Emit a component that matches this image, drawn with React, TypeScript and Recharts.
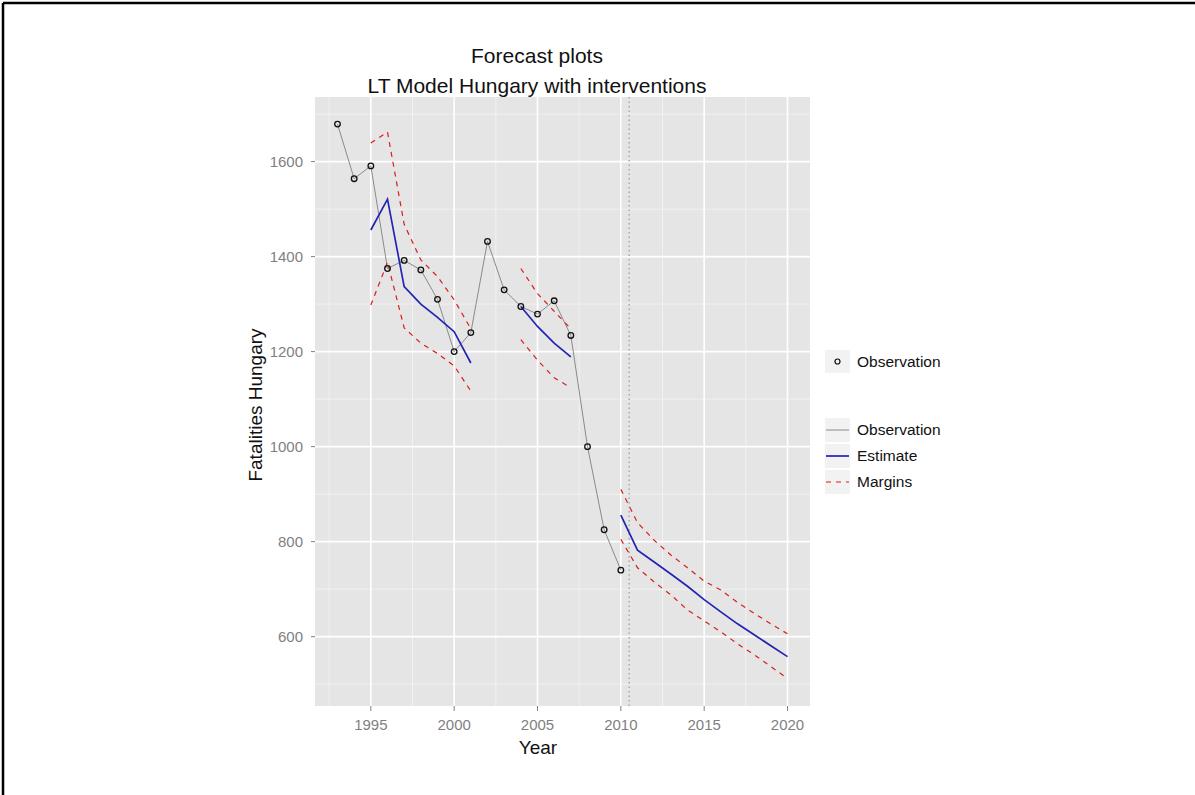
import { ComposedChart, Line, XAxis, YAxis, CartesianGrid, ReferenceLine } from "recharts";

// Fatalities Hungary, LT model with interventions
const years = [
  1993, 1994, 1995, 1996, 1997, 1998, 1999, 2000, 2001, 2002, 2003, 2004, 2005, 2006,
  2007, 2008, 2009, 2010, 2011, 2012, 2013, 2014, 2015, 2016, 2017, 2018, 2019, 2020,
];
const observed = [
  1679, 1564, 1591, 1375, 1392, 1372, 1310, 1200, 1240, 1432, 1330, 1295, 1279, 1307,
  1234, 1000, 825, 740, null, null, null, null, null, null, null, null, null, null,
];
const estimate = [
  null, null, 1456, 1521, 1337, 1300, 1272, 1242, 1176, null, null, 1295, 1253, 1218,
  1189, null, null, 856, 782, 757, 732, 706, 678, 652, 627, 604, 581, 558,
];
const upperMargin = [
  null, null, 1639, 1662, 1468, 1393, 1358, 1309, 1248, null, null, 1375, 1322, 1285,
  1248, null, null, 910, 840, 803, 772, 745, 717, 698, 672, 649, 627, 606,
];
const lowerMargin = [
  null, null, 1298, 1388, 1250, 1218, 1196, 1170, 1117, null, null, 1225, 1182, 1145,
  1124, null, null, 805, 745, 715, 688, 656, 633, 610, 585, 562, 537, 512,
];

const xTicks = [1995, 2000, 2005, 2010, 2015, 2020];
const yTicks = [600, 800, 1000, 1200, 1400, 1600];
const xMinor = [1992.5, 1997.5, 2002.5, 2007.5, 2012.5, 2017.5];
const yMinor = [500, 700, 900, 1100, 1300, 1500, 1700];
const forecastStart = 2010.5;

const data = years.map((year, i) => ({
  year,
  obs: observed[i],
  est: estimate[i],
  up: upperMargin[i],
  lo: lowerMargin[i],
}));

const FONT = '"Liberation Sans", Arial, sans-serif';
const GREY_TXT = "#7f7f7f";
const OBS_COL = "#8a8a8a";
const EST_COL = "#2323b4";
const MARGIN_COL = "#d81e1e";

const ObsDot = (props: any) => {
  const { cx, cy, index } = props;
  if (cx == null || cy == null || props.value == null) return <g key={`d${index}`} />;
  return <circle key={`d${index}`} cx={cx} cy={cy} r={2.8} fill="none" stroke="#111" strokeWidth={1.3} />;
};

export default function App() {
  return (
    <div style={{ position: "absolute", left: 0, top: 0, width: 1195, height: 795, background: "#fff", fontFamily: FONT }}>
      <ComposedChart
        width={1195}
        height={795}
        data={data}
        margin={{ top: 97, right: 385, bottom: 49, left: 255 }}
      >
        <CartesianGrid
          fill="#e5e5e5"
          stroke="#f3f3f3"
          strokeWidth={0.9}
          horizontalValues={yMinor}
          verticalValues={xMinor}
        />
        <CartesianGrid fill="none" stroke="#ffffff" strokeWidth={1.6} horizontalValues={yTicks} verticalValues={xTicks} />
        <XAxis
          type="number"
          dataKey="year"
          domain={[1991.65, 2021.35]}
          ticks={xTicks}
          allowDataOverflow
          axisLine={false}
          tickLine={{ stroke: GREY_TXT }}
          tickSize={5}
          tickMargin={8}
          height={40}
          tick={{ fill: GREY_TXT, fontSize: 15, fontFamily: FONT }}
        />
        <YAxis
          type="number"
          domain={[454, 1736]}
          ticks={yTicks}
          allowDataOverflow
          axisLine={false}
          tickLine={{ stroke: GREY_TXT }}
          tickSize={4}
          tickMargin={8}
          width={60}
          tick={{ fill: GREY_TXT, fontSize: 15, fontFamily: FONT }}
        />
        <ReferenceLine x={forecastStart} stroke="#9a9a9a" strokeDasharray="1.5 3" strokeWidth={1.2} />
        <Line type="linear" dataKey="obs" stroke={OBS_COL} strokeWidth={1} dot={ObsDot} isAnimationActive={false} />
        <Line type="linear" dataKey="est" stroke={EST_COL} strokeWidth={1.7} dot={false} isAnimationActive={false} />
        <Line type="linear" dataKey="up" stroke={MARGIN_COL} strokeWidth={1.2} strokeDasharray="5 5" dot={false} isAnimationActive={false} />
        <Line type="linear" dataKey="lo" stroke={MARGIN_COL} strokeWidth={1.2} strokeDasharray="5 5" dot={false} isAnimationActive={false} />
      </ComposedChart>

      <svg
        width={1195}
        height={795}
        style={{ position: "absolute", left: 0, top: 0, pointerEvents: "none" }}
        fontFamily={FONT}
      >
        <line x1={3} y1={3} x2={1195} y2={3} stroke="#000" strokeWidth={2.5} />
        <line x1={3} y1={3} x2={3} y2={795} stroke="#000" strokeWidth={2.5} />

        <text x={537} y={63} textAnchor="middle" fontSize={21} fill="#111">Forecast plots</text>
        <text x={537} y={93} textAnchor="middle" fontSize={21} fill="#111">LT Model Hungary with interventions</text>

        <text x={538} y={754} textAnchor="middle" fontSize={19} fill="#111">Year</text>
        <text
          x={0}
          y={0}
          textAnchor="middle"
          fontSize={19}
          fill="#111"
          transform="translate(262 405) rotate(-90)"
        >
          Fatalities Hungary
        </text>

        {/* point legend */}
        <rect x={825} y={350} width={25} height={23} fill="#f2f2f2" />
        <circle cx={837.5} cy={361.5} r={2.5} fill="none" stroke="#111" strokeWidth={1.2} />
        <text x={857} y={367} fontSize={15.5} fill="#111">Observation</text>

        {/* line legend */}
        <rect x={825} y={418} width={25} height={24} fill="#f2f2f2" />
        <rect x={825} y={444} width={25} height={24} fill="#f2f2f2" />
        <rect x={825} y={470} width={25} height={24} fill="#f2f2f2" />
        <line x1={826} y1={430} x2={849} y2={430} stroke={OBS_COL} strokeWidth={1} />
        <line x1={826} y1={456} x2={849} y2={456} stroke={EST_COL} strokeWidth={1.7} />
        <line x1={826} y1={482} x2={849} y2={482} stroke={MARGIN_COL} strokeWidth={1.2} strokeDasharray="5 5" />
        <text x={857} y={435} fontSize={15.5} fill="#111">Observation</text>
        <text x={857} y={461} fontSize={15.5} fill="#111">Estimate</text>
        <text x={857} y={487} fontSize={15.5} fill="#111">Margins</text>
      </svg>
    </div>
  );
}
